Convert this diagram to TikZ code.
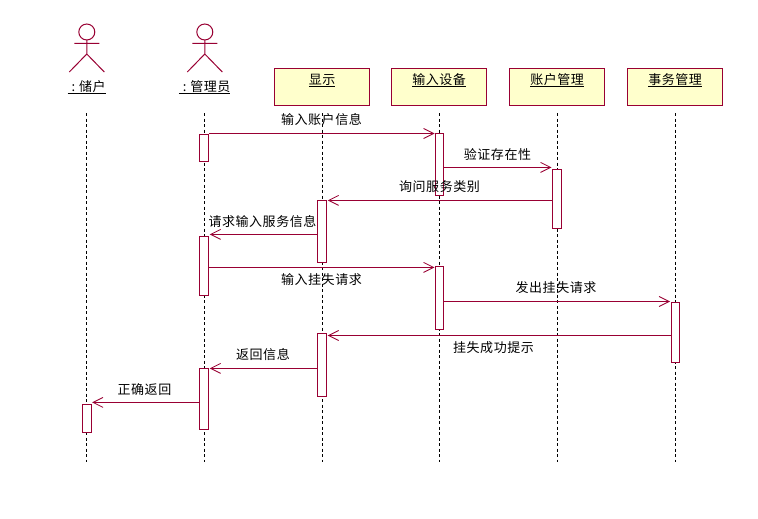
\documentclass[tikz,border=0pt]{standalone}
\usepackage{fontspec}
\usetikzlibrary{arrows.meta}
\newfontfamily\cjk[LetterSpace=4]{Noto Sans CJK SC}
\definecolor{rose}{HTML}{990033}
\definecolor{notefill}{HTML}{FFFFCC}
\newcommand\ulbl[1]{\setbox0\hbox{#1}\rlap{\rule[-2.2pt]{\wd0}{.9pt}}\box0}
\newcommand\colonpad{\hspace*{4pt}:\hspace{4pt}}
\tikzset{
  line/.style={draw=rose,line width=1pt},
  objbox/.style={line,fill=notefill,line width=1.2pt,inner sep=0pt,minimum width=95pt,
    text height=16pt,text depth=21pt,font=\cjk\fontsize{13}{15}\selectfont},
  actorname/.style={inner sep=0pt,anchor=base,font=\cjk\fontsize{13}{15}\selectfont},
  life/.style={draw=black,line width=.9pt,dash pattern=on 3pt off 2.5pt},
  act/.style={line,fill=white,inner sep=0pt,anchor=north west},
  msg/.style={line,-{Straight Barb[length=10pt,width=10pt,line width=.85pt]},shorten >=.6pt},
  txt/.style={inner sep=0pt,text=black,font=\cjk\fontsize{13}{15}\selectfont},
}
\newcommand\stick[1]{%
  \draw[line] (#1,32) circle (8);
  \draw[line] (#1,40) -- (#1,54) (#1-12.5,43.3) -- (#1+12.5,43.3)
    (#1-17.5,72) -- (#1,54) -- (#1+17.5,72);}
\newcommand\activation[5]{\node[act,minimum width=#3,minimum height=#4] (#1) at (#2,#5) {};}
\begin{document}
\begin{tikzpicture}[x=1pt,y=-1pt]
\useasboundingbox (0,0) rectangle (758,519);
\fill[white] (0,0) rectangle (758,519);
\coordinate (top) at (0,113);
\coordinate (bot) at (0,462);
% actors
\stick{86.8}
\stick{204.8}
\node[actorname] (a1) at (86.6,91.6) {\ulbl{\colonpad 储户}};
\node[actorname] (a2) at (204.6,91.6) {\ulbl{\colonpad 管理员}};
% objects
\node[objbox] (d1) at (322.2,87) {\ulbl{显示}};
\node[objbox] (d2) at (439.2,87) {\ulbl{输入设备}};
\node[objbox] (d3) at (557.2,87) {\ulbl{账户管理}};
\node[objbox] (d4) at (675.2,87) {\ulbl{事务管理}};
% lifelines
\draw[life] (a1 |- top) -- (a1 |- bot);
\draw[life] (a2 |- top) -- (a2 |- bot);
\draw[life] (d1 |- top) -- (d1 |- bot);
\draw[life] (d2 |- top) -- (d2 |- bot);
\draw[life] (d3 |- top) -- (d3 |- bot);
\draw[life] (d4 |- top) -- (d4 |- bot);
% activations
\activation{m1}{199.3}{9}{27.5}{133.6}
\activation{i1}{435.1}{8.2}{62}{133.4}
\activation{c1}{552.1}{9}{59}{169.4}
\activation{s1}{317.1}{9}{62}{200.4}
\activation{m2}{199.1}{9}{59.6}{235.7}
\activation{i2}{435.1}{8.2}{63}{266.3}
\activation{t1}{670.6}{8.8}{60}{302.2}
\activation{s2}{317.1}{9}{63}{333.4}
\activation{m3}{199.1}{9}{61}{368.3}
\activation{u1}{82.1}{8.4}{28}{404.3}
% message levels
\coordinate (y1) at (0,133.5);
\coordinate (y2) at (0,167.4);
\coordinate (y3) at (0,200.4);
\coordinate (y4) at (0,234.4);
\coordinate (y5) at (0,267.4);
\coordinate (y6) at (0,301.5);
\coordinate (y7) at (0,335.5);
\coordinate (y8) at (0,368.4);
\coordinate (y9) at (0,402.4);
% messages
\draw[msg] (m1.east |- y1) -- (i1.west |- y1);
\draw[msg] (i1.east |- y2) -- (c1.west |- y2);
\draw[msg] (c1.west |- y3) -- (s1.east |- y3);
\draw[msg] (s1.west |- y4) -- (m2.east |- y4);
\draw[msg] (m2.east |- y5) -- (i2.west |- y5);
\draw[msg] (i2.east |- y6) -- (t1.west |- y6);
\draw[msg] (t1.west |- y7) -- (s2.east |- y7);
\draw[msg] (s2.west |- y8) -- (m3.east |- y8);
\draw[msg] (m3.west |- y9) -- (u1.east |- y9);
% labels
\node[txt] (l1) at (321.5,119.7) {输入账户信息};
\node[txt] (l2) at (497.5,154.2) {验证存在性};
\node[txt] (l3) at (439.5,186.7) {询问服务类别};
\node[txt] (l4) at (262.5,221.2) {请求输入服务信息};
\node[txt] (l5) at (321.5,279.7) {输入挂失请求};
\node[txt] (l6) at (556,287.7) {发出挂失请求};
\node[txt] (l7) at (493.5,347.7) {挂失成功提示};
\node[txt] (l8) at (263,354.7) {返回信息};
\node[txt] (l9) at (144.5,389.2) {正确返回};
\end{tikzpicture}
\end{document}
